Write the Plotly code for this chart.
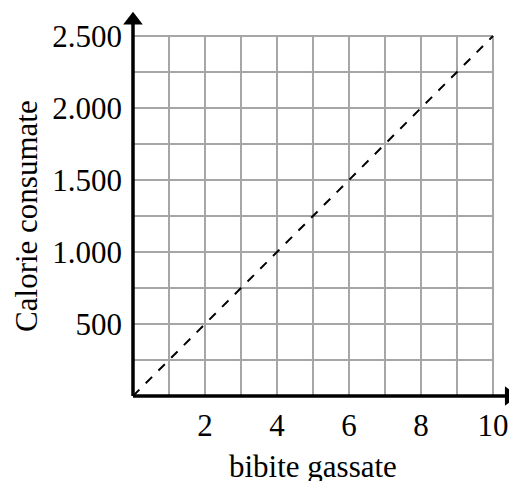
import plotly.graph_objects as go

# Data
x_line = [0, 10]
y_line = [0, 2500]
x_grid = [1, 2, 3, 4, 5, 6, 7, 8, 9, 10]
y_grid = [250, 500, 750, 1000, 1250, 1500, 1750, 2000, 2250, 2500]
x_tickvals = [2, 4, 6, 8, 10]
x_ticktext = ["2", "4", "6", "8", "10"]
y_tickvals = [500, 1000, 1500, 2000, 2500]
y_ticktext = ["500", "1.000", "1.500", "2.000", "2.500"]
x_title = "bibite gassate"
y_title = "Calorie consumate"

X_MAX = 10
Y_MAX = 2500
X_ARROW = 10.45
Y_ARROW = 2610

FONT = "Liberation Serif"
FS = 31
GRID_COLOR = "#a6a6a6"

fig = go.Figure()

# grid lines (stop at data limits)
for gx in x_grid:
    fig.add_trace(go.Scatter(x=[gx, gx], y=[0, Y_MAX], mode="lines",
                             line=dict(color=GRID_COLOR, width=2),
                             hoverinfo="skip", showlegend=False))
for gy in y_grid:
    fig.add_trace(go.Scatter(x=[0, X_MAX], y=[gy, gy], mode="lines",
                             line=dict(color=GRID_COLOR, width=2),
                             hoverinfo="skip", showlegend=False))

# dashed line
fig.add_trace(go.Scatter(x=x_line, y=y_line, mode="lines",
                         line=dict(color="black", width=2, dash="dash"),
                         showlegend=False))

# axes with arrows
fig.add_trace(go.Scatter(x=[0, X_ARROW], y=[0, 0], mode="lines",
                         line=dict(color="black", width=3.5),
                         showlegend=False, hoverinfo="skip"))
fig.add_trace(go.Scatter(x=[0, 0], y=[0, Y_ARROW], mode="lines",
                         line=dict(color="black", width=3.5),
                         showlegend=False, hoverinfo="skip"))
fig.add_trace(go.Scatter(x=[X_ARROW], y=[0], mode="markers",
                         marker=dict(symbol="triangle-right", size=17, color="black"),
                         cliponaxis=False, showlegend=False, hoverinfo="skip"))
fig.add_trace(go.Scatter(x=[0], y=[Y_ARROW], mode="markers",
                         marker=dict(symbol="triangle-up", size=17, color="black"),
                         cliponaxis=False, showlegend=False, hoverinfo="skip"))

fig.update_layout(
    width=517, height=481,
    margin=dict(l=121, r=8, t=2, b=89),
    paper_bgcolor="white", plot_bgcolor="white",
    font=dict(family=FONT, size=FS, color="black"),
    showlegend=False,
    xaxis=dict(range=[-0.111, 10.667], showgrid=False, zeroline=False,
               showline=False, tickvals=x_tickvals, ticktext=x_ticktext,
               ticks="", ticklabelstandoff=4, automargin=False,
               tickfont=dict(family=FONT, size=FS)),
    yaxis=dict(range=[-27.8, 2680.6], showgrid=False, zeroline=False,
               showline=False, tickvals=y_tickvals, ticktext=y_ticktext,
               ticks="", ticklabelstandoff=6, automargin=False,
               tickfont=dict(family=FONT, size=FS)),
    annotations=[
        dict(text=x_title, x=5, y=0, xref="x", yref="paper", yshift=-66,
             showarrow=False, font=dict(family=FONT, size=FS), yanchor="middle"),
        dict(text=y_title, x=0, y=0.472, xref="paper", yref="paper", xshift=-102,
             showarrow=False, textangle=-90, font=dict(family=FONT, size=FS),
             xanchor="center"),
    ],
)

fig.write_html("out.html")
